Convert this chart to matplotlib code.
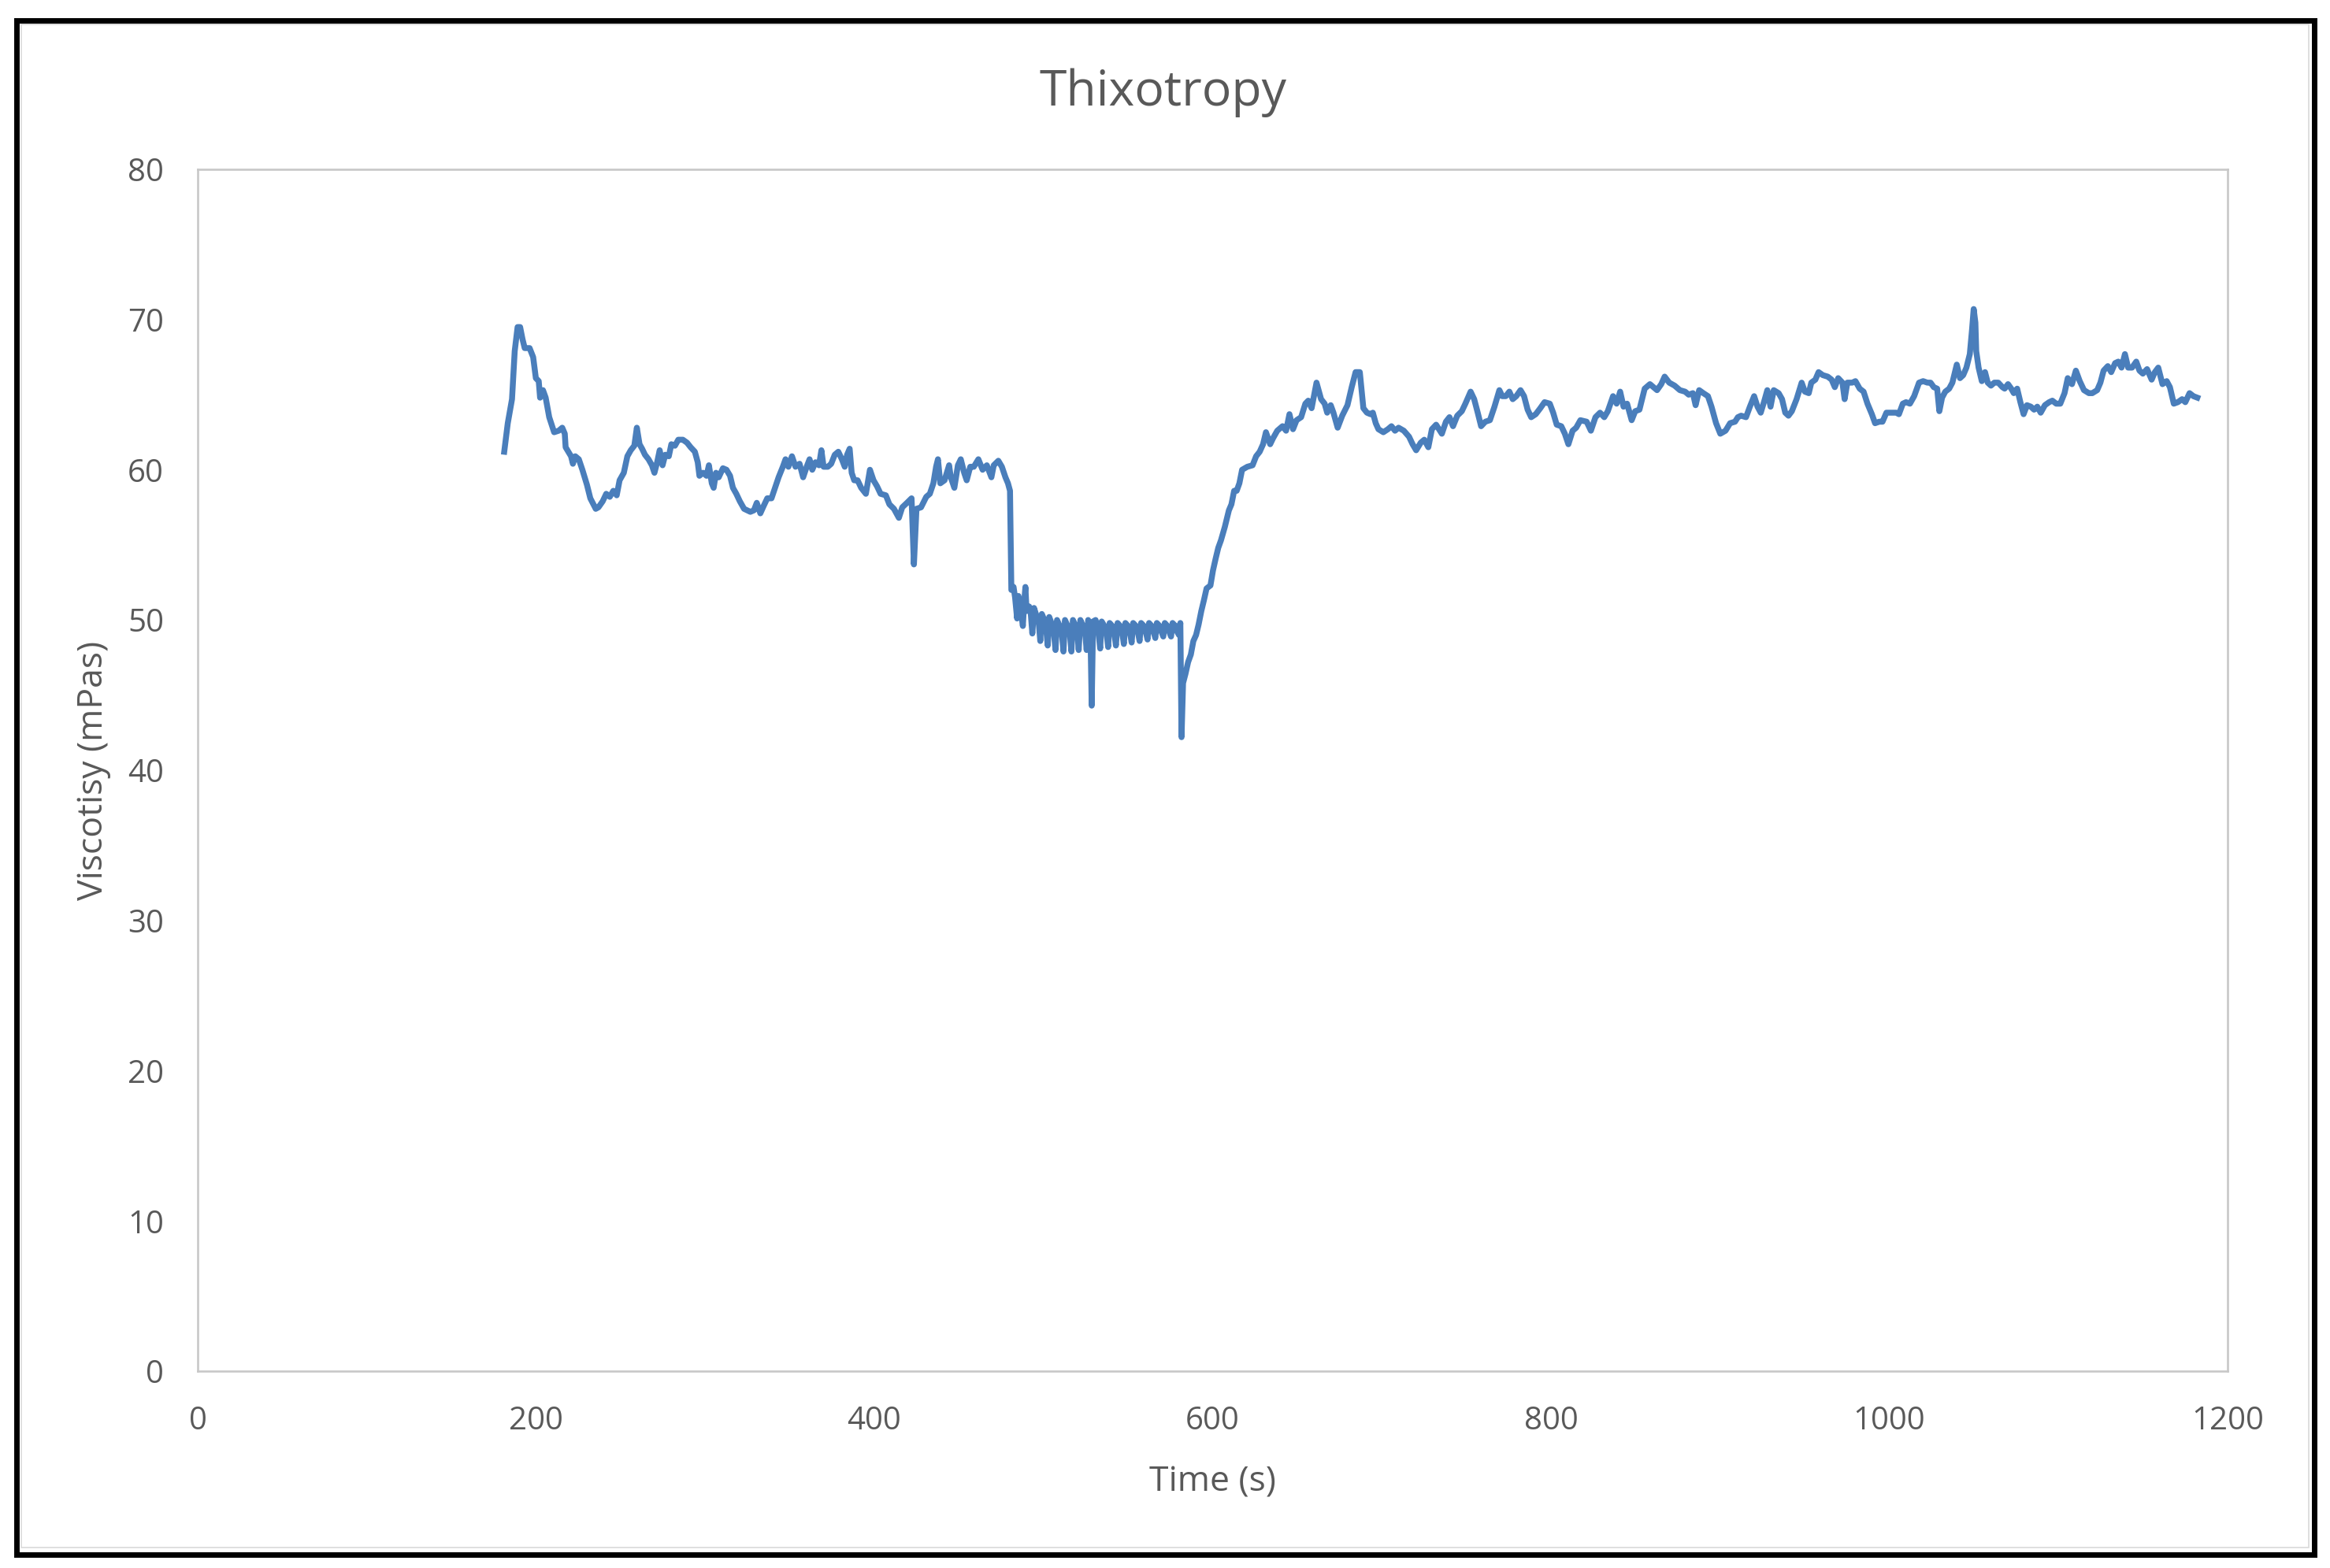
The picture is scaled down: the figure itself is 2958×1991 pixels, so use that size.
import matplotlib
matplotlib.use("Agg")
import matplotlib.pyplot as plt
from matplotlib.patches import Rectangle

# (time s, viscosity mPas), in three phases
rest = [
    (181.2, 61.2), (183.3, 63.1), (185.0, 64.2), (185.8, 64.7), (187.4, 67.9),
    (189.1, 69.5), (190.6, 69.5), (192.0, 68.7), (193.3, 68.1), (196.2, 68.1),
    (198.3, 67.5), (199.9, 66.1), (201.6, 65.9), (202.4, 64.8), (204.1, 65.3),
    (205.7, 64.8), (207.8, 63.5), (210.7, 62.5), (213.4, 62.6), (215.5, 62.8),
    (217.0, 62.4), (217.5, 61.5), (219.1, 61.2), (220.7, 60.9), (221.8, 60.4),
    (223.2, 60.9), (225.3, 60.7), (227.4, 60.0), (230.1, 59.0), (232.1, 58.1),
    (235.3, 57.4), (236.9, 57.5), (239.4, 57.9), (241.5, 58.4), (243.6, 58.2),
    (245.7, 58.6), (247.7, 58.3), (249.4, 59.3), (251.9, 59.8), (254.0, 60.9),
    (256.0, 61.3), (258.1, 61.6), (259.6, 62.8), (261.2, 61.7), (262.7, 61.4),
    (264.4, 61.0), (266.5, 60.7), (268.5, 60.3), (270.0, 59.8), (271.6, 60.5),
    (273.1, 61.3), (274.8, 60.3), (276.4, 61.0), (278.5, 60.9), (280.0, 61.7),
    (282.1, 61.6), (284.1, 62.0), (286.8, 62.0), (289.3, 61.8), (291.4, 61.5),
    (293.9, 61.2), (295.6, 60.5), (296.6, 59.6), (298.7, 59.8), (300.8, 59.6),
    (302.2, 60.3), (303.9, 59.1), (305.0, 58.8), (306.4, 59.8), (308.0, 59.5),
    (310.5, 60.1), (312.6, 60.0), (314.7, 59.6), (316.4, 58.8), (318.4, 58.4),
    (320.5, 57.9), (323.0, 57.4), (326.7, 57.2), (328.8, 57.3), (330.5, 57.8),
    (332.6, 57.1), (334.6, 57.6), (336.7, 58.1), (339.2, 58.1), (341.3, 58.8),
    (343.4, 59.5), (345.9, 60.2), (347.5, 60.7), (349.2, 60.2), (351.3, 60.9),
    (353.4, 60.2), (355.8, 60.4), (357.9, 59.5), (360.0, 60.2), (361.7, 60.7),
    (363.3, 60.0), (365.2, 60.5), (367.3, 60.3), (368.7, 61.3), (370.0, 60.2),
    (372.5, 60.2), (374.5, 60.4), (376.6, 61.0), (378.7, 61.2), (380.8, 60.7),
    (382.5, 60.2), (383.9, 61.0), (385.4, 61.4), (386.6, 59.8), (388.1, 59.3),
    (390.1, 59.3), (392.2, 58.8), (395.0, 58.4), (397.4, 60.0), (399.5, 59.3),
    (401.6, 58.9), (403.7, 58.4), (406.8, 58.3), (408.9, 57.7), (411.6, 57.4),
    (414.5, 56.8), (416.5, 57.5), (419.3, 57.8), (422.0, 58.1), (423.4, 53.7),
    (424.9, 57.4), (427.6, 57.5), (430.7, 58.2), (432.8, 58.4), (434.9, 59.1),
    (436.5, 60.2), (437.6, 60.7), (439.0, 59.1), (441.5, 59.3), (444.2, 60.3),
    (445.2, 59.5), (447.3, 58.8), (449.4, 60.3), (451.1, 60.7), (453.1, 59.8),
    (454.6, 59.3), (456.7, 60.2), (458.8, 60.2), (461.5, 60.7), (464.0, 60.0),
    (466.5, 60.3), (469.2, 59.5), (470.6, 60.3), (473.3, 60.6), (475.4, 60.2),
    (477.5, 59.5), (479.0, 59.1), (480.2, 58.6),
]

shear = [
    (481.0, 52.0), (482.3, 52.2), (483.2, 51.5), (484.4, 50.1), (485.2, 51.6),
    (486.3, 50.9), (487.8, 49.6), (488.6, 51.2), (489.3, 52.2), (490.0, 50.6),
    (491.5, 50.9), (492.5, 50.4), (493.4, 49.1), (494.4, 50.8), (495.8, 50.3),
    (497.0, 50.1), (498.1, 48.6), (499.0, 50.4), (500.5, 50.0), (501.5, 49.5),
    (502.5, 48.3), (503.4, 50.2), (505.0, 49.7), (506.1, 49.2), (507.1, 48.0),
    (508.0, 50.0), (509.6, 49.6), (510.8, 49.2), (511.8, 47.9), (512.7, 50.0),
    (514.3, 49.6), (515.5, 49.2), (516.5, 47.9), (517.4, 50.0), (519.0, 49.6),
    (520.0, 49.2), (520.8, 48.0), (521.8, 50.0), (523.4, 49.6), (524.6, 49.2),
    (525.5, 48.0), (526.4, 50.0), (527.7, 49.5), (528.5, 44.3), (529.3, 49.9),
    (530.8, 50.0), (532.4, 49.3), (533.5, 48.1), (534.4, 49.9), (536.0, 49.6),
    (537.2, 49.2), (538.2, 48.2), (539.1, 49.8), (540.7, 49.6), (541.8, 49.2),
    (542.8, 48.3), (543.8, 49.8), (545.4, 49.6), (546.5, 49.2), (547.5, 48.4),
    (548.4, 49.8), (550.0, 49.6), (551.1, 49.2), (552.1, 48.5), (553.0, 49.8),
    (554.7, 49.6), (555.8, 49.2), (556.8, 48.6), (557.7, 49.8), (559.4, 49.6),
    (560.5, 49.2), (561.5, 48.7), (562.4, 49.8), (564.0, 49.6), (565.1, 49.2),
    (566.1, 48.8), (567.0, 49.8), (568.7, 49.6), (569.8, 49.2), (570.8, 48.9),
    (571.7, 49.8), (573.3, 49.6), (574.4, 49.2), (575.4, 48.9), (576.3, 49.8),
    (578.0, 49.6), (579.1, 49.2), (580.1, 49.0), (580.9, 49.8), (581.6, 42.2),
]

recovery = [
    (582.5, 45.8), (583.9, 46.4), (585.5, 47.2), (587.1, 47.7), (588.6, 48.6),
    (590.2, 49.0), (591.7, 49.7), (593.3, 50.6), (594.8, 51.3), (596.4, 52.1),
    (598.7, 52.3), (600.2, 53.3), (601.8, 54.1), (603.3, 54.8), (604.9, 55.3),
    (607.2, 56.2), (609.6, 57.3), (611.1, 57.7), (612.7, 58.6), (614.2, 58.6),
    (615.8, 59.1), (617.4, 60.0), (620.5, 60.2), (623.6, 60.3), (625.7, 60.9),
    (627.8, 61.2), (629.8, 61.7), (631.5, 62.5), (634.0, 61.7), (635.7, 62.1),
    (638.2, 62.6), (641.3, 62.9), (643.4, 62.6), (645.4, 63.7), (647.5, 62.7),
    (649.6, 63.3), (652.3, 63.5), (654.8, 64.4), (656.5, 64.6), (658.5, 64.1),
    (661.4, 65.8), (664.1, 64.7), (666.2, 64.4), (667.7, 63.8), (669.8, 64.3),
    (671.4, 63.8), (673.9, 62.8), (676.6, 63.6), (679.7, 64.3), (682.2, 65.5),
    (684.5, 66.5), (687.0, 66.5), (689.1, 64.1), (691.2, 63.8), (693.3, 63.7),
    (694.7, 63.8), (696.4, 63.1), (698.0, 62.7), (700.9, 62.5), (703.6, 62.7),
    (705.7, 62.9), (707.8, 62.6), (709.9, 62.8), (713.0, 62.6), (716.1, 62.2),
    (718.2, 61.7), (720.3, 61.3), (723.0, 61.8), (725.1, 62.0), (727.5, 61.5),
    (729.6, 62.7), (732.1, 63.0), (735.5, 62.4), (737.9, 63.2), (740.0, 63.5),
    (742.1, 62.9), (744.6, 63.6), (747.3, 63.9), (749.4, 64.4), (752.5, 65.2),
    (754.6, 64.7), (756.7, 63.8), (758.7, 62.9), (761.2, 63.2), (763.9, 63.3),
    (766.6, 64.2), (769.5, 65.3), (771.2, 64.9), (773.3, 64.9), (775.4, 65.2),
    (777.4, 64.7), (779.5, 64.9), (782.0, 65.3), (784.1, 64.9), (786.2, 64.0),
    (788.3, 63.5), (791.0, 63.7), (793.7, 64.1), (796.2, 64.5), (799.3, 64.4),
    (801.3, 63.8), (803.4, 63.0), (806.1, 62.9), (808.2, 62.4), (810.3, 61.7),
    (812.8, 62.6), (814.9, 62.8), (817.4, 63.3), (821.1, 63.2), (823.6, 62.6),
    (826.3, 63.5), (829.0, 63.8), (831.5, 63.5), (833.6, 63.9), (836.7, 64.9),
    (838.8, 64.4), (840.9, 65.2), (842.9, 64.2), (845.0, 64.4), (847.7, 63.3),
    (849.8, 63.9), (852.3, 64.0), (855.4, 65.4), (858.5, 65.7), (862.7, 65.3),
    (865.2, 65.7), (867.2, 66.2), (869.9, 65.8), (873.1, 65.6), (876.2, 65.3),
    (879.3, 65.2), (881.4, 65.0), (883.9, 65.1), (885.5, 64.3), (887.6, 65.3),
    (890.1, 65.1), (892.8, 64.9), (894.9, 64.2), (897.6, 63.1), (900.1, 62.4),
    (903.2, 62.6), (905.9, 63.1), (908.8, 63.2), (910.5, 63.5), (912.4, 63.6),
    (915.3, 63.5), (917.6, 64.2), (920.1, 64.9), (922.1, 64.2), (924.0, 63.8),
    (925.9, 64.5), (927.9, 65.3), (929.8, 64.2), (931.7, 65.3), (934.6, 65.1),
    (936.6, 64.7), (938.5, 63.8), (940.4, 63.6), (942.4, 63.9), (945.2, 64.7),
    (948.2, 65.8), (950.1, 65.2), (952.4, 65.1), (953.9, 65.8), (956.3, 66.0),
    (958.2, 66.5), (960.7, 66.3), (963.6, 66.2), (965.9, 66.0), (967.8, 65.5),
    (969.8, 66.1), (972.3, 65.8), (973.6, 64.7), (975.2, 65.8), (978.1, 65.8),
    (980.0, 65.9), (982.5, 65.4), (984.8, 65.2), (987.1, 64.4), (989.7, 63.7),
    (991.6, 63.1), (994.1, 63.2), (996.0, 63.2), (998.3, 63.8), (1001.2, 63.8),
    (1004.1, 63.8), (1005.7, 63.7), (1008.0, 64.4), (1009.9, 64.5), (1012.2, 64.4),
    (1014.7, 64.9), (1017.6, 65.8), (1020.0, 65.9), (1022.5, 65.8), (1024.4, 65.8),
    (1026.3, 65.5), (1028.3, 65.4), (1029.6, 63.9), (1031.2, 64.8), (1033.1, 65.2),
    (1035.4, 65.4), (1037.3, 65.8), (1039.9, 67.0), (1041.8, 66.1), (1043.7, 66.3),
    (1045.6, 66.8), (1047.6, 67.7), (1048.9, 69.3), (1049.9, 70.7), (1050.9, 69.8),
    (1051.4, 67.9), (1052.8, 66.8), (1054.7, 65.9), (1056.6, 66.5), (1058.2, 65.8),
    (1060.1, 65.6), (1062.1, 65.8), (1064.4, 65.8), (1066.9, 65.5), (1068.2, 65.4),
    (1070.2, 65.7), (1072.1, 65.4), (1073.6, 65.1), (1075.6, 65.4), (1077.5, 64.5),
    (1079.4, 63.7), (1081.4, 64.3), (1083.7, 64.2), (1085.6, 64.0), (1087.5, 64.2),
    (1089.5, 63.8), (1092.0, 64.3), (1094.5, 64.5), (1096.4, 64.6), (1098.7, 64.4),
    (1101.1, 64.4), (1103.6, 65.1), (1105.5, 66.1), (1108.0, 65.7), (1110.3, 66.6),
    (1112.6, 65.9), (1115.1, 65.3), (1118.0, 65.1), (1120.0, 65.1), (1122.9, 65.3),
    (1124.8, 65.8), (1126.7, 66.6), (1129.2, 66.9), (1131.2, 66.5), (1133.5, 67.1),
    (1135.4, 67.2), (1137.3, 66.8), (1139.3, 67.7), (1141.2, 66.8), (1143.5, 66.8),
    (1146.0, 67.2), (1147.9, 66.6), (1149.9, 66.4), (1152.4, 66.7), (1155.1, 66.0),
    (1157.0, 66.5), (1159.0, 66.8), (1161.5, 65.7), (1164.0, 65.9), (1165.9, 65.5),
    (1168.2, 64.4), (1170.6, 64.5), (1173.1, 64.7), (1175.0, 64.5), (1177.5, 65.1),
    (1179.8, 64.9), (1182.1, 64.8),
]

x_ticks = [0, 200, 400, 600, 800, 1000, 1200]
y_ticks = [0, 10, 20, 30, 40, 50, 60, 70, 80]

pts = rest + shear + recovery
time_s = [p[0] for p in pts]
visc = [p[1] for p in pts]

W, H = 2958, 1991
txt = '#595959'
plt.rcParams['font.family'] = ['Open Sans', 'DejaVu Sans']

fig = plt.figure(figsize=(W / 100, H / 100), dpi=100)
fig.patch.set_facecolor('white')

ax = fig.add_axes([251 / W, 1 - 1741 / H, (2828 - 251) / W, (1741 - 215) / H])
ax.plot(time_s, visc, color='#4A7EBB', lw=5.4, solid_joinstyle='round')

ax.set_xlim(0, 1200)
ax.set_ylim(0, 80)
ax.set_xticks(x_ticks)
ax.set_yticks(y_ticks)
ax.tick_params(length=0, labelsize=29, labelcolor=txt, pad=31)
for s in ax.spines.values():
    s.set_color('#C8C8C8')
    s.set_linewidth(1.9)

fig.text(1476 / W, 1 - 134 / H, 'Thixotropy', ha='center', va='baseline',
         fontsize=45, color=txt)
fig.text(1539 / W, 1 - 1882 / H, 'Time (s)', ha='center', va='center',
         fontsize=32, color=txt)
fig.text(119 / W, 1 - 978 / H, 'Viscotisy (mPas)', ha='center', va='center',
         rotation=90, fontsize=32, color=txt)

# black outer frame and Excel's thin chart-area border
fig.patches.append(Rectangle((20.5 / W, 1 - 1973.5 / H), 2917 / W, 1948 / H,
                             transform=fig.transFigure, fill=False,
                             ec='black', lw=5.0))
fig.patches.append(Rectangle((27 / W, 1 - 1965 / H), 2904 / W, 1934 / H,
                             transform=fig.transFigure, fill=False,
                             ec='#D9D9D9', lw=1.2))

fig.savefig('out.png', dpi=100)
